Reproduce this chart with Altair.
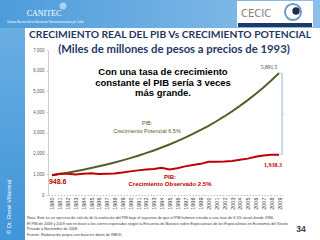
import altair as alt
import pandas as pd

years = [str(y) for y in range(1980, 2010)]
observed = [948.6, 1029.0, 1024.1, 988.2, 1022.1, 1044.5, 1012.3, 1029.8, 1042.1, 1085.8,
            1140.8, 1189.0, 1232.2, 1256.2, 1311.7, 1230.6, 1294.2, 1381.5, 1451.4, 1503.9,
            1605.1, 1604.6, 1616.1, 1639.3, 1704.8, 1755.8, 1843.7, 1904.0, 1940.0, 1938.3]
potential = [948.6, 1010.3, 1075.9, 1145.9, 1220.3, 1299.7, 1384.1, 1474.1, 1569.9, 1672.0,
             1780.7, 1896.4, 2019.7, 2150.9, 2290.7, 2439.6, 2598.2, 2767.1, 2947.0, 3138.5,
             3342.5, 3559.8, 3791.2, 4037.6, 4300.1, 4579.6, 4877.2, 5194.2, 5531.9, 5891.5]
y_ticks = [0, 1000, 2000, 3000, 4000, 5000, 6000, 7000]

title1 = "CRECIMIENTO REAL DEL PIB Vs CRECIMIENTO POTENCIAL"
title2 = "(Miles de millones de pesos a precios de 1993)"
note_lines = [
    "Nota: Este es un ejercicio de cálculo de la evolución del PIB bajo el supuesto de que el PIB hubiese crecido a una tasa de 6.5% anual desde 1980.",
    "El PIB de 2008 y 2009 son en base a los cierres esperados según la Encuesta de Banxico sobre Expectativas de los Especialistas en Economía del Sector",
    "Privado a Noviembre de 2008.",
    "Fuente: Elaboración propia con base en datos de INEGI.",
]

df = pd.DataFrame({"year": years, "Observado": observed, "Potencial": potential})
ends = pd.DataFrame({"year": ["1980", "2009", "2009"],
                     "v": [observed[0], potential[-1], observed[-1]],
                     "lab": ["948.6", "5,891.5", "1,938.3"]})
one = pd.DataFrame({"d": [0]})

GREEN = "#4F6228"
RED = "#C00000"
NAVY = "#1F3864"

xaxis = alt.Axis(title=None, labelAngle=270, labelFontSize=5.5, labelColor="#404040",
                 labelFont="Liberation Sans", labelPadding=2, ticks=False,
                 domainColor="#BFBFBF", domainDash=[1.5, 1.5], labelAlign="right",
                 labelBaseline="middle", labelOverlap=False)
xscale = alt.Scale(type="point", padding=0.5)
yscale = alt.Scale(domain=[0, 7000], nice=False)
yaxis = alt.Axis(title=None, values=y_ticks, format=",.0f", labelFontSize=4.5,
                 labelColor="#595959", labelFont="Liberation Sans", grid=False,
                 domainColor="#D0D0D0", tickColor="#D0D0D0", tickSize=2, labelPadding=2,
                 labelOverlap=False, labelFlush=False)

def X():
    return alt.X("year:N", sort=years, scale=xscale, axis=xaxis)

def Y(field):
    return alt.Y(field, scale=yscale, axis=yaxis)

base = alt.Chart(df)
green_line = base.mark_line(color=GREEN, strokeWidth=2).encode(x=X(), y=Y("Potencial:Q"))
red_line = base.mark_line(color=RED, strokeWidth=2).encode(x=X(), y=Y("Observado:Q"))

e = alt.Chart(ends)
lab_start = e.transform_filter("datum.lab == '948.6'").mark_text(
    color=RED, fontWeight="bold", fontSize=7, font="Liberation Sans", align="left", dx=-3, dy=7
).encode(x=X(), y=Y("v:Q"), text="lab:N")
lab_pot = e.transform_filter("datum.lab == '5,891.5'").mark_text(
    color="#404040", fontSize=5.5, font="Liberation Serif", align="center", dx=-10, dy=-6
).encode(x=X(), y=Y("v:Q"), text="lab:N")
lab_obs = e.transform_filter("datum.lab == '1,938.3'").mark_text(
    color=RED, fontWeight="bold", fontSize=6, font="Liberation Serif", align="center", dx=-6, dy=10
).encode(x=X(), y=Y("v:Q"), text="lab:N")

bracket_df = pd.DataFrame({"year": ["2009"], "lo": [observed[-1]], "hi": [potential[-1]]})
bracket = alt.Chart(bracket_df).mark_rule(color="#95B3D7", strokeWidth=1, xOffset=3).encode(
    x=X(), y=Y("lo:Q"), y2="hi:Q")
bticks_df = pd.DataFrame({"year": ["2009", "2009"], "v": [observed[-1], potential[-1]]})
bticks = alt.Chart(bticks_df).mark_tick(color="#95B3D7", orient="horizontal", size=1,
                                        thickness=1, xOffset=1.5).encode(x=X(), y=Y("v:Q"))
mid_df = pd.DataFrame({"year": ["2009"], "v": [(observed[-1] + potential[-1]) / 2]})
mtick = alt.Chart(mid_df).mark_tick(color="#95B3D7", orient="horizontal", size=1,
                                    thickness=1, xOffset=4.5).encode(x=X(), y=Y("v:Q"))

# decorations (pixel positions relative to plot origin at (48, 50))
OX, OY = 48, 50
d = alt.Chart(one)
banner = d.mark_rect(color=alt.LinearGradient(
    gradient="linear", x1=0, x2=1, y1=0, y2=0,
    stops=[alt.GradientStop(color="#4E9CDA", offset=0), alt.GradientStop(color="#8CC0EA", offset=1)])
).encode(x=alt.value(0 - OX), x2=alt.value(320 - OX), y=alt.value(0 - OY), y2=alt.value(28 - OY))
strip = d.mark_rect(color=alt.LinearGradient(
    gradient="linear", x1=0, x2=0, y1=0, y2=1,
    stops=[alt.GradientStop(color="#6AAEE3", offset=0), alt.GradientStop(color="#3F95D8", offset=1)])
).encode(x=alt.value(0 - OX), x2=alt.value(25 - OX), y=alt.value(28 - OY), y2=alt.value(240 - OY))
cecic_box = d.mark_rect(color="white").encode(
    x=alt.value(237 - OX), x2=alt.value(313 - OX), y=alt.value(1 - OY), y2=alt.value(27 - OY))
cecic_bar = d.mark_rect(color="#1F3864").encode(
    x=alt.value(238 - OX), x2=alt.value(312 - OX), y=alt.value(23 - OY), y2=alt.value(27 - OY))
cecic_txt = d.mark_text(text="CECIC", font="DejaVu Sans", fontSize=10, color="#808080",
                        align="left", baseline="middle").encode(
    x=alt.value(241 - OX), y=alt.value(14 - OY))
eye_arc = d.mark_point(shape="circle", filled=False, color="#2E75B6", size=260, strokeWidth=2).encode(
    x=alt.value(293 - OX), y=alt.value(12 - OY))
eye = d.mark_point(shape="circle", filled=True, color="#1F2D4D", size=55, opacity=1).encode(
    x=alt.value(296 - OX), y=alt.value(11 - OY))
canitec = d.mark_text(text="CANITEC", font="Liberation Serif", fontSize=8, color="white",
                      align="center", baseline="middle").encode(
    x=alt.value(44 - OX), y=alt.value(14 - OY))
canitec_sub = d.mark_text(text="Cámara Nacional de la Industria de Telecomunicaciones por Cable",
                          font="Liberation Sans", fontSize=2.6, color="white",
                          align="left", baseline="middle").encode(
    x=alt.value(7 - OX), y=alt.value(22 - OY))
globe = d.mark_point(shape="circle", filled=True, color="#CFE3F5", size=50).encode(
    x=alt.value(63 - OX), y=alt.value(6 - OY))

t1 = d.mark_text(text=title1, font="Lato", fontWeight="bold", fontSize=10.3, color=NAVY,
                 align="center", baseline="middle").encode(
    x=alt.value(170 - OX), y=alt.value(35 - OY))
t2 = d.mark_text(text=title2, font="Lato", fontWeight="bold", fontSize=11.3, color=NAVY,
                 align="center", baseline="middle").encode(
    x=alt.value(174 - OX), y=alt.value(50 - OY))
annot = d.mark_text(text=["Con una tasa de crecimiento", "constante el PIB sería 3 veces", "más grande."],
                    font="Liberation Sans", fontWeight="bold", fontSize=9.5, color="black",
                    align="center", baseline="middle", lineHeight=10.5).encode(
    x=alt.value(163 - OX), y=alt.value(72 - OY))
pot_lab = d.mark_text(text=["PIB:", "Crecimiento Potencial 6.5%"], font="Liberation Sans",
                      fontSize=5.5, color=GREEN, align="center", baseline="middle", lineHeight=8).encode(
    x=alt.value(147 - OX), y=alt.value(123 - OY))
obs_lab = d.mark_text(text=["PIB:", "Crecimiento  Observado 2.5%"], font="Liberation Sans",
                      fontSize=6, fontWeight="bold", color=RED, align="center", baseline="middle",
                      lineHeight=6.5).encode(
    x=alt.value(170 - OX), y=alt.value(177 - OY))
note = d.mark_text(text=note_lines, font="Liberation Sans", fontSize=3.8, color="#404040",
                   align="left", baseline="middle", lineHeight=5.6).encode(
    x=alt.value(27 - OX), y=alt.value(218 - OY))
page = d.mark_text(text="34", font="Liberation Sans", fontWeight="bold", fontSize=8.5, color="#404040",
                   align="center", baseline="middle").encode(
    x=alt.value(301 - OX), y=alt.value(229 - OY))
copy = d.mark_text(text="© Dr. René Villarreal", font="Liberation Sans", fontSize=6, color="white",
                   angle=270, align="center", baseline="middle").encode(
    x=alt.value(9 - OX), y=alt.value(207 - OY))

chart = alt.layer(
    banner, strip, cecic_box, cecic_bar, cecic_txt, eye_arc, eye, canitec, canitec_sub, globe,
    green_line, red_line, bracket, bticks, mtick, lab_start, lab_pot, lab_obs,
    t1, t2, annot, pot_lab, obs_lab, note, page, copy
).properties(
    width=235, height=145, autosize="none",
    padding={"left": 48, "top": 50, "right": 37, "bottom": 45}
).configure_view(stroke=None)

chart.save("out.html", embed_options={"renderer": "svg", "actions": False})
